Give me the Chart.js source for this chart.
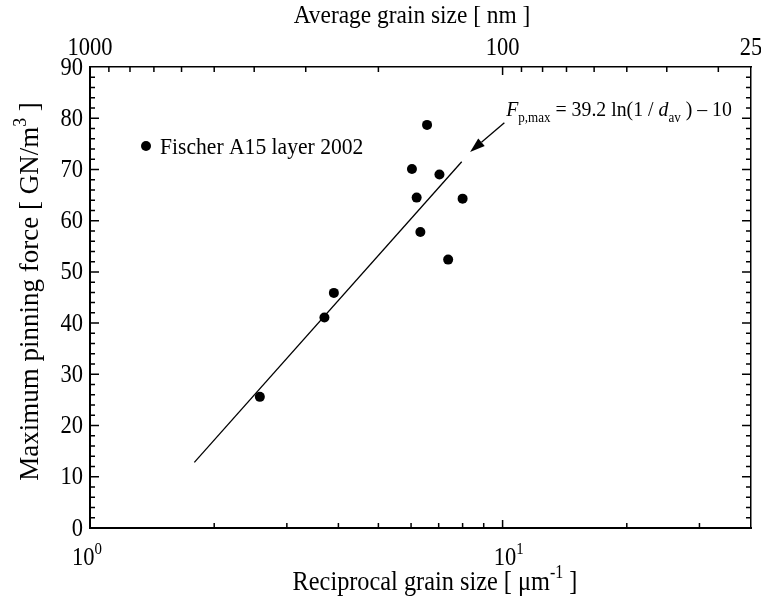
<!DOCTYPE html>
<html>
<head>
<meta charset="utf-8">
<script src="https://cdn.jsdelivr.net/npm/chart.js@4.4.1/dist/chart.umd.min.js"></script>
<style>
  html, body { margin: 0; padding: 0; background: #fff; }
  #wrap { width: 761px; height: 599px; position: relative; }
</style>
</head>
<body>
<div id="wrap"><canvas id="chart"></canvas></div>
<script>
// --- Data ---
const recipGrain = [2.58, 3.70, 3.90, 6.03, 6.19, 6.32, 6.56, 7.03, 7.38, 8.00];
const pinForce   = [25.6, 41.1, 45.9, 70.1, 64.5, 57.8, 78.7, 69.0, 52.4, 64.3];

// fitted line, end points
const fitX = [1.79, 7.96];
const fitY = [12.8, 71.5];

// --- Axis ticks ---
const bottomTicks = [1, 2, 3, 4, 5, 6, 7, 8, 9, 10, 20, 30];
const bottomExpTicks = [1, 10];      // labelled as 10^exp
const bottomExps = ['0', '1'];
const topNm = [1000, 900, 800, 700, 600, 500, 400, 300, 200, 100, 90, 80, 70, 60, 50, 40, 30, 25];
const topLabels = [1000, 100, 25];
const yMinorStep = 2;
const yMajorStep = 10;

// annotation (data coords)
const eqAnchor = [10.2, 80.5];
const arrowFrom = [10.1, 79.1];
const arrowTo = [8.34, 73.4];

const FONT = '"Liberation Serif", "Times New Roman", "DejaVu Serif", serif';
const SX = 0.9;          // the scanned figure has slightly narrow lettering
const TICK_SIZE = 25;
const TITLE_SIZE = 27;

// --- Helpers ---
function richWidth(ctx, parts, size) {
    let w = 0;
    parts.forEach(p => {
        const s = (p.sub || p.sup) ? size * 0.66 : size;
        ctx.font = (p.italic ? 'italic ' : '') + s + 'px ' + FONT;
        w += ctx.measureText(p.t).width;
    });
    return w * SX;
}

// draws text parts left to right starting at x (baseline y)
function drawRich(ctx, parts, x, y, size) {
    ctx.save();
    ctx.translate(x, y);
    ctx.scale(SX, 1);
    ctx.textAlign = 'left';
    ctx.textBaseline = 'alphabetic';
    let cx = 0;
    parts.forEach(p => {
        const s = (p.sub || p.sup) ? size * 0.66 : size;
        ctx.font = (p.italic ? 'italic ' : '') + s + 'px ' + FONT;
        const dy = p.sub ? size * 0.28 : p.sup ? -size * 0.45 : 0;
        ctx.fillText(p.t, cx, dy);
        cx += ctx.measureText(p.t).width;
    });
    ctx.restore();
}

function drawText(ctx, text, x, y, size, align, baseline) {
    ctx.save();
    ctx.translate(x, y);
    ctx.scale(SX, 1);
    ctx.font = size + 'px ' + FONT;
    ctx.textAlign = align;
    ctx.textBaseline = baseline;
    ctx.fillText(text, 0, 0);
    ctx.restore();
}

// inward ticks, tick labels, titles, legend and formula
const framePlugin = {
    id: 'frame',
    afterDraw(chart) {
        const { ctx, chartArea: a, scales } = chart;
        const xs = scales.x, ys = scales.y;
        ctx.save();
        ctx.strokeStyle = '#000';
        ctx.fillStyle = '#000';
        ctx.lineWidth = 1.5;

        ctx.beginPath();
        bottomTicks.forEach(v => {
            if (v === 1) return;
            const px = xs.getPixelForValue(v);
            const len = v === 10 ? 8 : 5;
            ctx.moveTo(px, a.bottom);
            ctx.lineTo(px, a.bottom - len);
        });
        topNm.forEach(nm => {
            const v = 1000 / nm;
            if (v <= 1 || v >= 40) return;
            const px = xs.getPixelForValue(v);
            const len = topLabels.includes(nm) ? 8 : 5;
            ctx.moveTo(px, a.top);
            ctx.lineTo(px, a.top + len);
        });
        ys.ticks.forEach(t => {
            if (t.value <= 0 || t.value >= 90) return;
            const py = ys.getPixelForValue(t.value);
            const len = t.value % yMajorStep === 0 ? 9 : 5;
            ctx.moveTo(a.left, py);
            ctx.lineTo(a.left + len, py);
            ctx.moveTo(a.right, py);
            ctx.lineTo(a.right - len, py);
        });
        ctx.stroke();

        // y tick labels
        ys.ticks.forEach(t => {
            if (t.value % yMajorStep !== 0) return;
            drawText(ctx, String(t.value), a.left - 7, ys.getPixelForValue(t.value) + 1, TICK_SIZE, 'right', 'middle');
        });

        // top tick labels (grain size in nm)
        topLabels.forEach(nm => {
            drawText(ctx, String(nm), xs.getPixelForValue(1000 / nm), a.top - 12, TICK_SIZE, 'center', 'alphabetic');
        });

        // bottom labels 10^0, 10^1
        bottomExpTicks.forEach((v, i) => {
            const parts = [{ t: '10' }, { t: bottomExps[i], sup: true }];
            const w = richWidth(ctx, parts, TICK_SIZE);
            const px = xs.getPixelForValue(v);
            drawRich(ctx, parts, px - w / 2 + (i === 0 ? -3 : 6), a.bottom + 37, TICK_SIZE);
        });

        // axis titles
        const bt = [{ t: 'Reciprocal grain size [ \u03bcm' }, { t: '-1', sup: true }, { t: ' ]' }];
        let w = richWidth(ctx, bt, TITLE_SIZE);
        drawRich(ctx, bt, 435 - w / 2, a.bottom + 62, TITLE_SIZE);

        drawText(ctx, 'Average grain size [ nm ]', 412, 23, TITLE_SIZE - 1, 'center', 'alphabetic');

        const lt = [{ t: 'Maximum pinning force [ GN/m' }, { t: '3', sup: true }, { t: ' ]' }];
        ctx.save();
        ctx.translate(38, (a.top + a.bottom) / 2 - 6);
        ctx.rotate(-Math.PI / 2);
        // rotated title is not narrowed: measure without SX
        let lw = 0;
        lt.forEach(p => {
            ctx.font = ((p.sup ? TITLE_SIZE * 0.66 : TITLE_SIZE)) + 'px ' + FONT;
            lw += ctx.measureText(p.t).width;
        });
        let cx = -lw / 2;
        lt.forEach(p => {
            const s = p.sup ? TITLE_SIZE * 0.66 : TITLE_SIZE;
            ctx.font = s + 'px ' + FONT;
            ctx.fillText(p.t, cx, p.sup ? -TITLE_SIZE * 0.45 : 0);
            cx += ctx.measureText(p.t).width;
        });
        ctx.restore();

        // legend
        const ds = chart.data.datasets[0];
        ctx.beginPath();
        ctx.arc(146, 146, ds.pointRadius, 0, Math.PI * 2);
        ctx.fill();
        drawText(ctx, ds.label, 160, 154, 24, 'left', 'alphabetic');

        // formula and arrow
        const eq = [
            { t: 'F', italic: true }, { t: 'p,max', sub: true },
            { t: ' = 39.2 ln(1 / ' }, { t: 'd', italic: true }, { t: 'av', sub: true },
            { t: ' ) \u2013 10' }
        ];
        drawRich(ctx, eq, xs.getPixelForValue(eqAnchor[0]), ys.getPixelForValue(eqAnchor[1]), 22);

        const x0 = xs.getPixelForValue(arrowFrom[0]), y0 = ys.getPixelForValue(arrowFrom[1]);
        const x1 = xs.getPixelForValue(arrowTo[0]), y1 = ys.getPixelForValue(arrowTo[1]);
        const ang = Math.atan2(y1 - y0, x1 - x0);
        const hl = 15, hw = 5;
        ctx.lineWidth = 1.3;
        ctx.beginPath();
        ctx.moveTo(x0, y0);
        ctx.lineTo(x1 - Math.cos(ang) * hl, y1 - Math.sin(ang) * hl);
        ctx.stroke();
        ctx.beginPath();
        ctx.moveTo(x1, y1);
        ctx.lineTo(x1 - Math.cos(ang) * hl - Math.sin(ang) * hw, y1 - Math.sin(ang) * hl + Math.cos(ang) * hw);
        ctx.lineTo(x1 - Math.cos(ang) * hl + Math.sin(ang) * hw, y1 - Math.sin(ang) * hl - Math.cos(ang) * hw);
        ctx.closePath();
        ctx.fill();

        ctx.restore();
    }
};

const noGrid = { display: false, drawTicks: false };
const noPad = s => { s.paddingLeft = 0; s.paddingRight = 0; s.paddingTop = 0; s.paddingBottom = 0; };

new Chart(document.getElementById('chart'), {
    type: 'scatter',
    data: {
        datasets: [
            {
                label: 'Fischer A15 layer 2002',
                data: recipGrain.map((x, i) => ({ x, y: pinForce[i] })),
                pointRadius: 5,
                pointBackgroundColor: '#000',
                pointBorderColor: '#000',
                pointBorderWidth: 0,
                xAxisID: 'x',
                yAxisID: 'y'
            },
            {
                label: 'fit',
                data: fitX.map((x, i) => ({ x, y: fitY[i] })),
                showLine: true,
                borderColor: '#000',
                borderWidth: 1.3,
                pointRadius: 0,
                fill: false,
                xAxisID: 'x',
                yAxisID: 'y'
            }
        ]
    },
    options: {
        responsive: true,
        maintainAspectRatio: false,
        animation: false,
        layout: { padding: 0 },
        plugins: {
            legend: { display: false },
            tooltip: { enabled: false }
        },
        scales: {
            x: {
                type: 'logarithmic',
                position: 'bottom',
                min: 1,
                max: 40,
                afterBuildTicks: s => { s.ticks = bottomTicks.map(v => ({ value: v })); },
                ticks: { display: false },
                grid: noGrid,
                border: { display: true, color: '#000', width: 2 },
                afterFit: s => { s.height = 71; noPad(s); }
            },
            x2: {
                type: 'logarithmic',
                position: 'top',
                min: 1,
                max: 40,
                afterBuildTicks: s => { s.ticks = topNm.map(nm => ({ value: 1000 / nm })); },
                ticks: { display: false },
                grid: noGrid,
                border: { display: true, color: '#000', width: 1.5 },
                afterFit: s => { s.height = 67; noPad(s); }
            },
            y: {
                type: 'linear',
                position: 'left',
                min: 0,
                max: 90,
                afterBuildTicks: s => {
                    const t = [];
                    for (let v = 0; v <= 90; v += yMinorStep) t.push({ value: v });
                    s.ticks = t;
                },
                ticks: { display: false },
                grid: noGrid,
                border: { display: true, color: '#000', width: 2 },
                afterFit: s => { s.width = 90; noPad(s); }
            },
            y2: {
                type: 'linear',
                position: 'right',
                min: 0,
                max: 90,
                ticks: { display: false },
                grid: noGrid,
                border: { display: true, color: '#000', width: 1.5 },
                afterFit: s => { s.width = 10; noPad(s); }
            }
        }
    },
    plugins: [framePlugin]
});
</script>
</body>
</html>
